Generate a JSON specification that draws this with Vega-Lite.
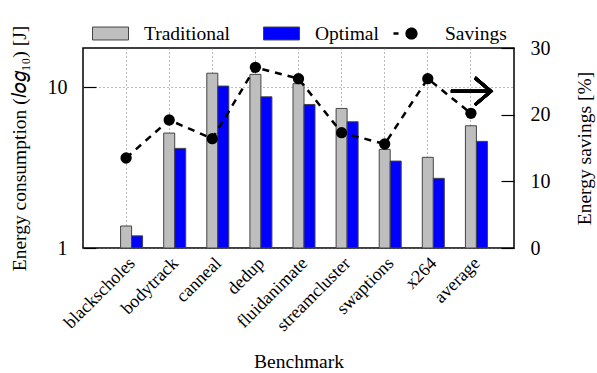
{
  "$schema": "https://vega.github.io/schema/vega-lite/v6.json",
  "width": 431,
  "height": 200,
  "autosize": {"type": "none"},
  "padding": {"left": 83, "top": 48, "right": 83, "bottom": 125},
  "background": "white",
  "config": {
    "font": "Liberation Serif",
    "view": {"stroke": "black", "strokeWidth": 1.5},
    "axis": {
      "labelFont": "Liberation Serif",
      "titleFont": "Liberation Serif",
      "labelFontSize": 20,
      "titleFontSize": 19.5,
      "labelColor": "black",
      "titleColor": "black",
      "titleFontWeight": "normal",
      "domain": false,
      "tickColor": "black",
      "tickWidth": 1.2,
      "grid": false
    }
  },
  "datasets": {
    "energy": [
      {"benchmark": "blackscholes", "series": "Traditional", "joules": 1.37},
      {"benchmark": "blackscholes", "series": "Optimal", "joules": 1.19},
      {"benchmark": "bodytrack", "series": "Traditional", "joules": 5.18},
      {"benchmark": "bodytrack", "series": "Optimal", "joules": 4.16},
      {"benchmark": "canneal", "series": "Traditional", "joules": 12.2},
      {"benchmark": "canneal", "series": "Optimal", "joules": 10.15},
      {"benchmark": "dedup", "series": "Traditional", "joules": 12.0},
      {"benchmark": "dedup", "series": "Optimal", "joules": 8.7},
      {"benchmark": "fluidanimate", "series": "Traditional", "joules": 10.5},
      {"benchmark": "fluidanimate", "series": "Optimal", "joules": 7.8},
      {"benchmark": "streamcluster", "series": "Traditional", "joules": 7.37},
      {"benchmark": "streamcluster", "series": "Optimal", "joules": 6.09},
      {"benchmark": "swaptions", "series": "Traditional", "joules": 4.1},
      {"benchmark": "swaptions", "series": "Optimal", "joules": 3.47},
      {"benchmark": "x264", "series": "Traditional", "joules": 3.66},
      {"benchmark": "x264", "series": "Optimal", "joules": 2.71},
      {"benchmark": "average", "series": "Traditional", "joules": 5.75},
      {"benchmark": "average", "series": "Optimal", "joules": 4.6}
    ],
    "savings": [
      {"benchmark": "blackscholes", "percent": 13.5},
      {"benchmark": "bodytrack", "percent": 19.2},
      {"benchmark": "canneal", "percent": 16.4},
      {"benchmark": "dedup", "percent": 27.1},
      {"benchmark": "fluidanimate", "percent": 25.4},
      {"benchmark": "streamcluster", "percent": 17.3},
      {"benchmark": "swaptions", "percent": 15.6},
      {"benchmark": "x264", "percent": 25.4},
      {"benchmark": "average", "percent": 20.2}
    ]
  },
  "encoding": {
    "x": {
      "field": "benchmark",
      "type": "nominal",
      "sort": ["blackscholes", "bodytrack", "canneal", "dedup", "fluidanimate", "streamcluster", "swaptions", "x264", "average"],
      "scale": {"paddingInner": 0, "paddingOuter": 0.5},
      "axis": {
        "title": "Benchmark",
        "titlePadding": 18,
        "labelAngle": -45,
        "labelFontSize": 18,
        "labelDx": 10,
        "labelDy": 10,
        "ticks": false,
        "grid": true,
        "bandPosition": 0.5,
        "gridDash": [1, 3],
        "gridColor": "#777",
        "gridWidth": 1,
        "labelPadding": 6
      }
    }
  },
  "layer": [
    {
      "data": {"name": "energy"},
      "mark": {"type": "bar", "stroke": "#444", "strokeWidth": 1},
      "encoding": {
        "xOffset": {
          "field": "series",
          "type": "nominal",
          "scale": {"domain": ["Traditional", "Optimal"], "paddingInner": 0, "paddingOuter": 0.959, "align": 0.761}
        },
        "y": {
          "field": "joules",
          "type": "quantitative",
          "scale": {"type": "log", "domain": [1, 17.5], "nice": false},
          "axis": {
            "title": "Energy consumption (𝑙𝑜𝑔₁₀) [J]",
            "values": [1, 10],
            "format": "d",
            "tickSize": -13,
            "labelPadding": 29,
            "titlePadding": 18,
            "grid": true,
            "gridDash": [1, 3],
            "gridColor": "#777"
          }
        },
        "y2": {"datum": 1},
        "color": {
          "field": "series",
          "type": "nominal",
          "scale": {"domain": ["Traditional", "Optimal", "Savings"], "range": ["#bebebe", "#0000ff", "#000000"]},
          "legend": {
            "orient": "none",
            "legendX": 9,
            "legendY": -33,
            "direction": "horizontal",
            "title": null,
            "labelFont": "Liberation Serif",
            "labelFontSize": 19.5,
            "labelColor": "black",
            "labelOffset": 15,
            "columnPadding": 12,
            "symbolSize": 1296,
            "symbolType": "M-1,-0.36H1V0.36H-1Z",
            "symbolStrokeColor": "#444",
            "symbolStrokeWidth": 1,
            "symbolOpacity": 1,
            "encode": {
              "symbols": {
                "update": {
                  "shape": {"signal": "datum.label === 'Savings' ? 'M-1,-0.07H-0.72V0.07H-1Z M-0.34,0A0.34,0.34 0 1,0 0.34,0A0.34,0.34 0 1,0 -0.34,0Z' : datum.label === 'Traditional' ? 'M-1,-0.36H1V0.36H-1Z M7.56,0' : 'M-1,-0.36H1V0.36H-1Z'"},
                  "stroke": {"signal": "datum.label === 'Savings' ? 'transparent' : '#444'"}
                }
              }
            }
          }
        }
      }
    },
    {
      "data": {"name": "savings"},
      "layer": [
        {
          "mark": {"type": "line", "strokeDash": [7, 6], "strokeWidth": 2.5, "color": "black"},
          "encoding": {
            "y": {
              "field": "percent",
              "type": "quantitative",
              "scale": {"domain": [0, 30], "nice": false},
              "axis": {
                "orient": "right",
                "title": "Energy savings [%]",
                "titleAngle": 270,
                "values": [0, 10, 20, 30],
                "tickSize": -13,
                "labelPadding": 29,
                "titlePadding": 44
              }
            }
          }
        },
        {
          "mark": {"type": "point", "filled": true, "size": 127, "opacity": 1, "color": "black"},
          "encoding": {
            "y": {"field": "percent", "type": "quantitative"}
          }
        },
        {
          "mark": {"type": "rule", "strokeWidth": 3, "color": "black", "xOffset": -20, "x2Offset": 18},
          "encoding": {
            "x": {"datum": "average"},
            "x2": {"datum": "average"},
            "y": {"datum": 23.5}
          }
        },
        {
          "mark": {"type": "point", "shape": "M-1,-0.85L0,0L-1,0.85", "filled": false, "size": 1024, "strokeWidth": 3, "color": "black", "opacity": 1, "xOffset": 20},
          "encoding": {
            "x": {"datum": "average"},
            "y": {"datum": 23.5}
          }
        }
      ]
    }
  ],
  "resolve": {"scale": {"y": "independent"}}
}
